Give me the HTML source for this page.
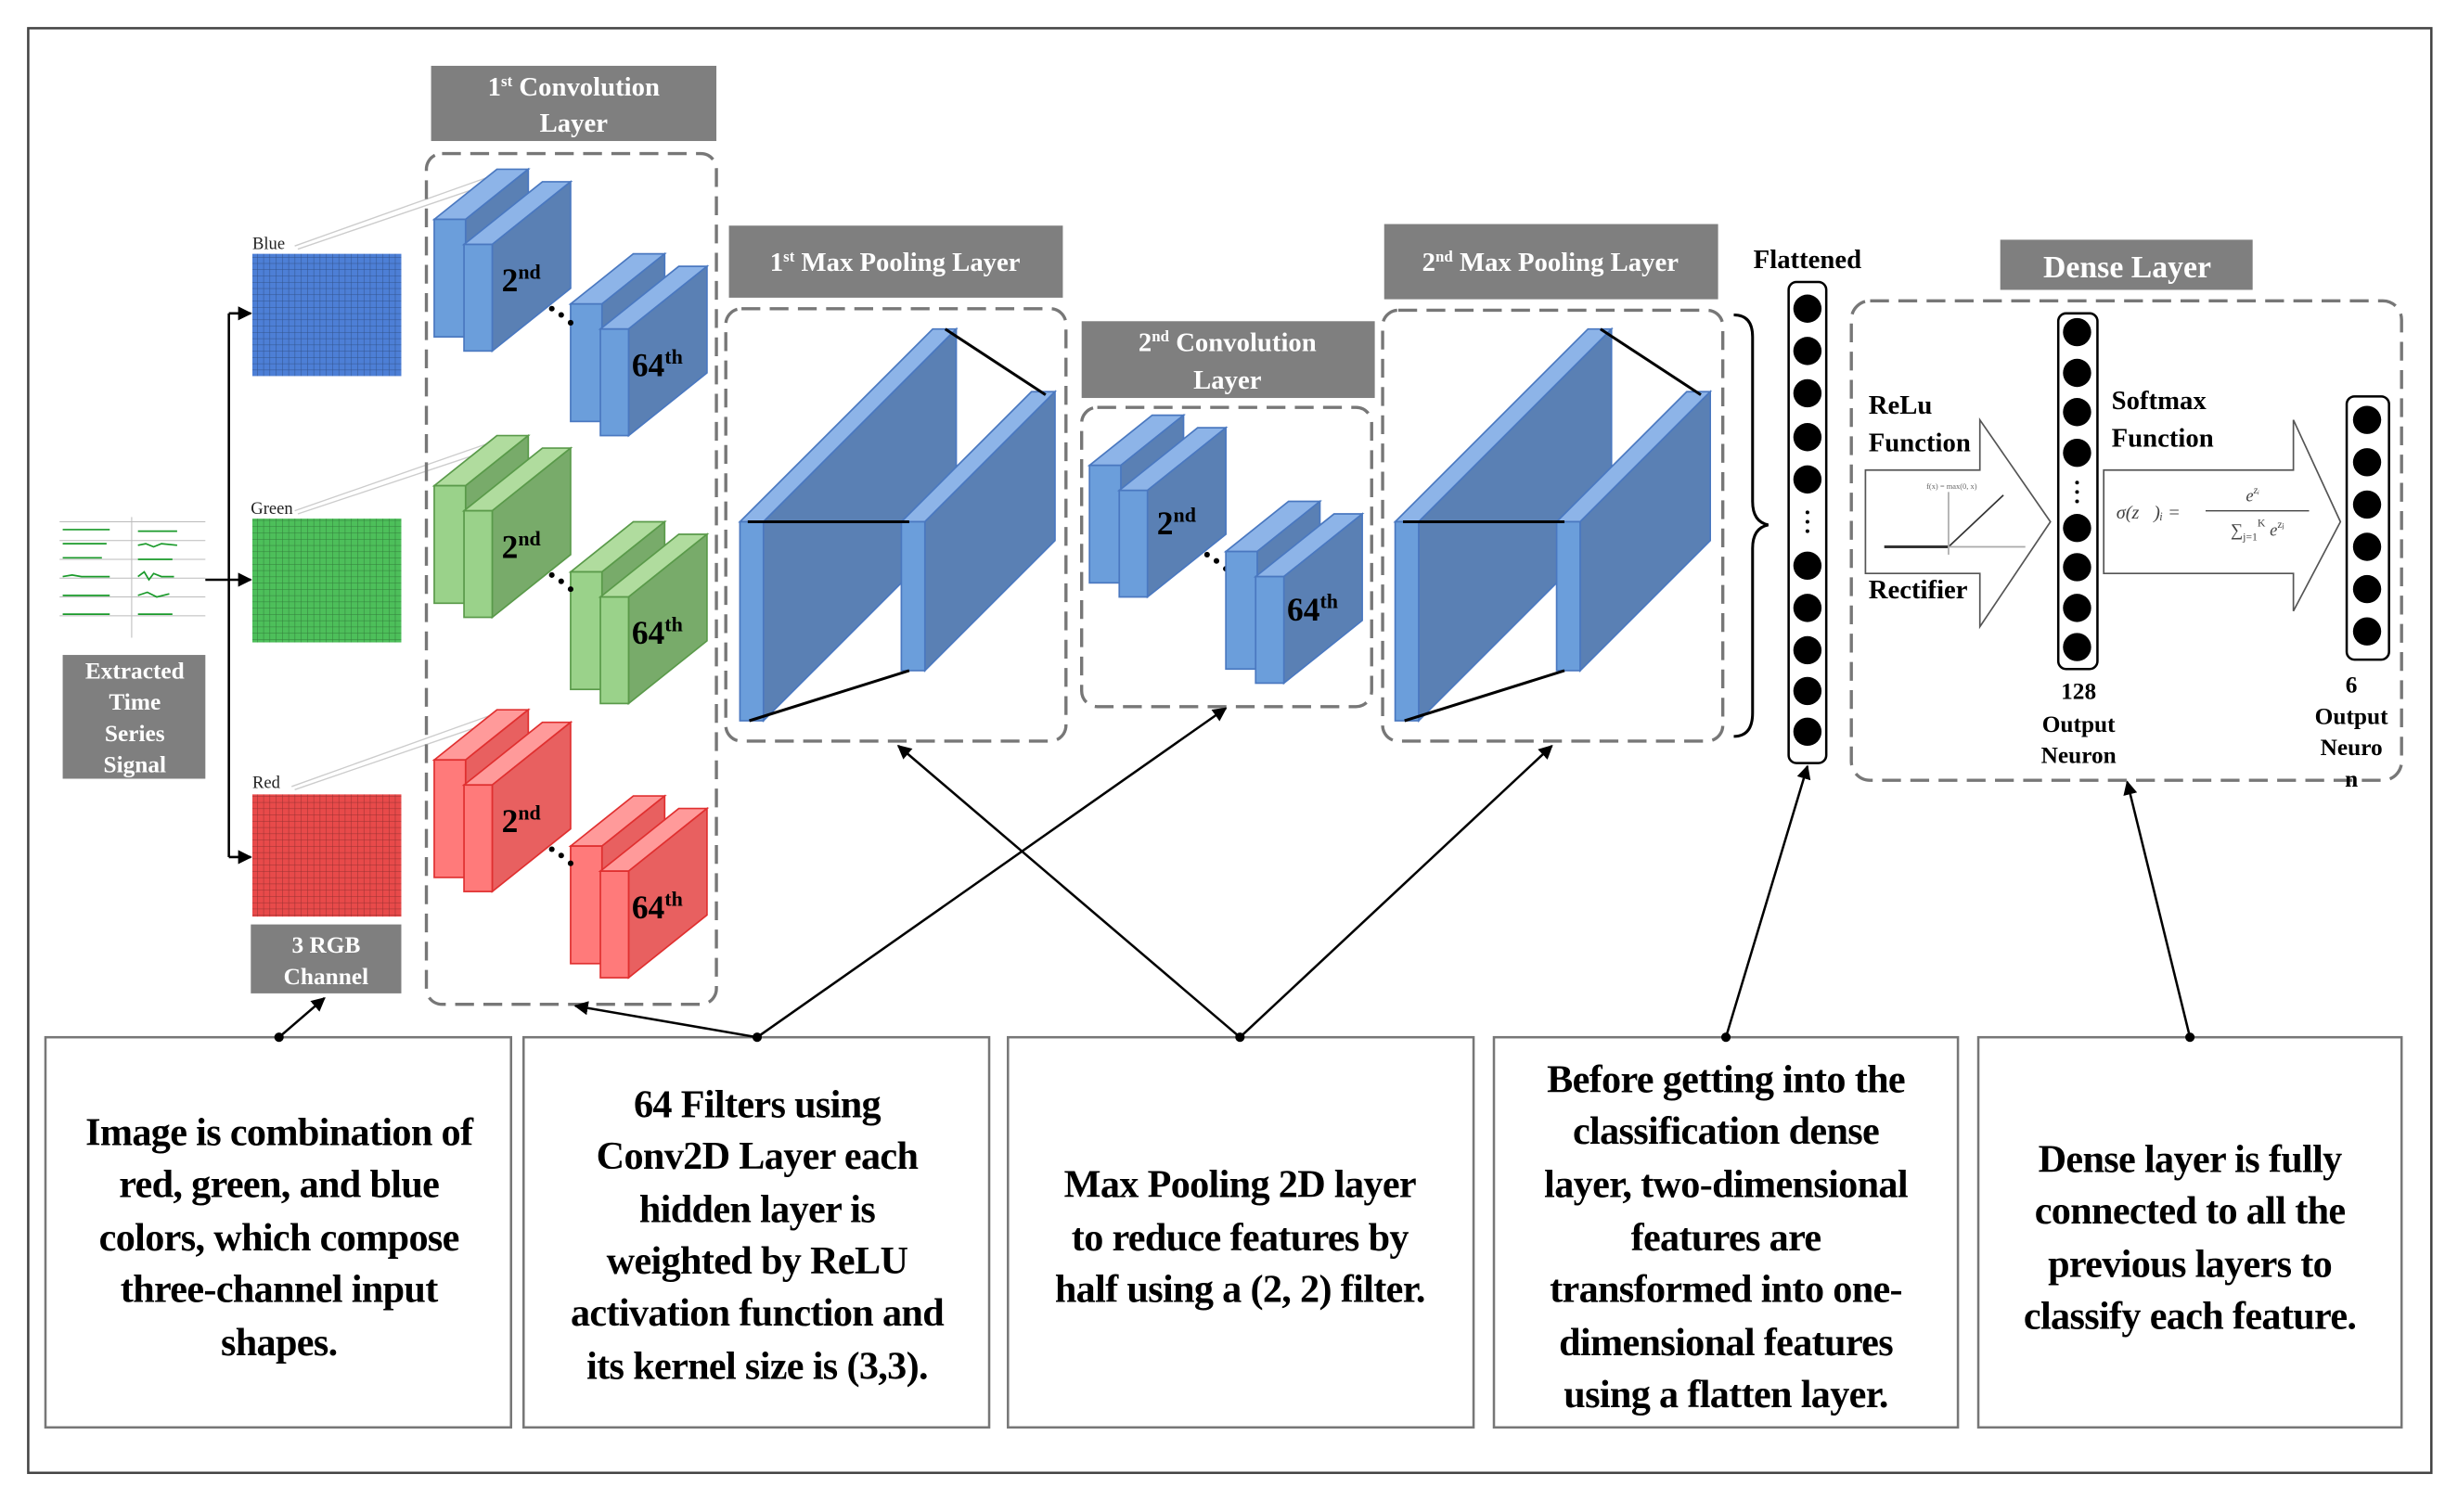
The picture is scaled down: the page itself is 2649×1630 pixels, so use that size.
<!DOCTYPE html>
<html><head><meta charset="utf-8"><style>
html,body{margin:0;padding:0;background:#fff}
svg{display:block}
text{font-family:"Liberation Serif",serif;font-weight:bold}
</style></head><body>
<svg width="2649" height="1630" viewBox="0 0 1568 965" preserveAspectRatio="none" xmlns="http://www.w3.org/2000/svg">
<defs>
<pattern id="grid" width="4" height="4" patternUnits="userSpaceOnUse"><path d="M0 0H4M0 0V4" stroke="#000" stroke-opacity="0.35" stroke-width="0.6" fill="none"/></pattern>
<g id="blk" stroke="var(--s)" stroke-width="1">
<polygon points="0,0 40,-32 60,-32 20,0" fill="var(--t)"/>
<polygon points="20,0 60,-32 60,43 20,75" fill="var(--d)"/>
<rect x="0" y="0" width="20" height="75" fill="var(--f)"/>
<polygon points="19,16 69,-24 87,-24 37,16" fill="var(--t)"/>
<polygon points="37,16 87,-24 87,44 37,84" fill="var(--d)"/>
<rect x="19" y="16" width="18" height="68" fill="var(--f)"/>
</g>
<g id="pool" stroke="#4a78c0" stroke-width="1">
<polygon points="472,333 595,210 610,210 487,333" fill="#8db4e8"/>
<polygon points="487,333 610,210 610,337 487,460" fill="#5a80b4"/>
<rect x="472" y="333" width="15" height="127" fill="#6b9edb"/>
<polygon points="575,333 658,250 673,250 590,333" fill="#8db4e8"/>
<polygon points="590,333 673,250 673,345 590,428" fill="#5a80b4"/>
<rect x="575" y="333" width="15" height="95" fill="#6b9edb"/>
<g stroke="#000" stroke-width="1.8"><line x1="477" y1="333" x2="580" y2="333"/><line x1="478" y1="460" x2="580" y2="428"/><line x1="603" y1="210" x2="667" y2="252"/></g>
</g>
<marker id="ar" viewBox="0 0 10 10" refX="9" refY="5" markerWidth="6" markerHeight="6" orient="auto-start-reverse"><path d="M0,0L10,5L0,10z" fill="#000"/></marker>
</defs>

<rect x="18" y="18" width="1533" height="922" fill="none" stroke="#444" stroke-width="1.5"/>

<g stroke="#bbb" stroke-width="0.6"><line x1="38" y1="333" x2="131" y2="333"/><line x1="38" y1="345" x2="131" y2="345"/><line x1="38" y1="357" x2="131" y2="357"/><line x1="38" y1="369" x2="131" y2="369"/><line x1="38" y1="381" x2="131" y2="381"/><line x1="38" y1="393" x2="131" y2="393"/><line x1="84" y1="330" x2="84" y2="407"/></g>
<g stroke="#1a9a2a" stroke-width="1" fill="none">
<path d="M40 338h30M88 339h25M40 347h28M88 348l5 -1 5 2 5 -2 10 1M40 356h25M88 357h22M40 368l6-1 6 1h18M88 368l4-3 3 5 3-4 5 2 8 0M40 380h30M88 380l6 -2 6 3 8 -2M40 392h30M88 392h22"/></g>
<rect x="40" y="418" width="91" height="79" fill="#7f7f7f"/>
<g fill="#fff" font-size="15" text-anchor="middle"><text x="86" y="433">Extracted</text><text x="86" y="453">Time</text><text x="86" y="473">Series</text><text x="86" y="493">Signal</text></g>

<g stroke="#000" stroke-width="1.5" fill="none">
<line x1="131" y1="370" x2="146" y2="370"/><line x1="146" y1="200" x2="146" y2="547"/>
<line x1="146" y1="200" x2="160" y2="200" marker-end="url(#ar)"/>
<line x1="146" y1="370" x2="160" y2="370" marker-end="url(#ar)"/>
<line x1="146" y1="547" x2="160" y2="547" marker-end="url(#ar)"/>
</g>

<rect x="161" y="162" width="95" height="78" fill="#4d7fd6"/><rect x="161" y="162" width="95" height="78" fill="url(#grid)"/>
<rect x="161" y="331" width="95" height="79" fill="#4dbf5a"/><rect x="161" y="331" width="95" height="79" fill="url(#grid)"/>
<rect x="161" y="507" width="95" height="78" fill="#e84a4a"/><rect x="161" y="507" width="95" height="78" fill="url(#grid)"/>
<g font-size="11" fill="#222"><text x="161" y="159" style="font-weight:normal">Blue</text><text x="160" y="328" style="font-weight:normal">Green</text><text x="161" y="503" style="font-weight:normal">Red</text></g>
<g stroke="#ccc" stroke-width="0.8"><line x1="188" y1="157" x2="320" y2="110"/><line x1="190" y1="159" x2="322" y2="114"/><line x1="188" y1="326" x2="320" y2="280"/><line x1="190" y1="328" x2="322" y2="284"/><line x1="186" y1="502" x2="320" y2="454"/><line x1="188" y1="504" x2="322" y2="458"/></g>
<rect x="160" y="590" width="96" height="44" fill="#7f7f7f"/>
<g fill="#fff" font-size="15" text-anchor="middle"><text x="208" y="608">3 RGB</text><text x="208" y="628">Channel</text></g>

<rect x="275" y="42" width="182" height="48" fill="#7f7f7f"/>
<g fill="#fff" font-size="17" text-anchor="middle"><text x="366" y="61">1<tspan font-size="10" dy="-6">st</tspan><tspan dy="6"> Convolution</tspan></text><text x="366" y="84">Layer</text></g>
<rect x="272" y="98" width="185" height="543" rx="10" fill="none" stroke="#777" stroke-width="2" stroke-dasharray="12,6"/>
<g style="--f:#6b9edb;--d:#5a80b4;--t:#8db4e8;--s:#4a78c0"><use href="#blk" x="277" y="140"/><use href="#blk" x="364" y="194"/></g>
<g style="--f:#9ad28a;--d:#78ab6a;--t:#b0dc9e;--s:#5a9a4a"><use href="#blk" x="277" y="310"/><use href="#blk" x="364" y="365"/></g>
<g style="--f:#ff7a7a;--d:#e86060;--t:#ff9a9a;--s:#e03030"><use href="#blk" x="277" y="485"/><use href="#blk" x="364" y="540"/></g>
<g font-size="21" fill="#000">
<text x="320" y="186">2<tspan font-size="13" dy="-8">nd</tspan></text><text x="403" y="240">64<tspan font-size="13" dy="-8">th</tspan></text>
<text x="320" y="356">2<tspan font-size="13" dy="-8">nd</tspan></text><text x="403" y="411">64<tspan font-size="13" dy="-8">th</tspan></text>
<text x="320" y="531">2<tspan font-size="13" dy="-8">nd</tspan></text><text x="403" y="586">64<tspan font-size="13" dy="-8">th</tspan></text>
</g>
<g fill="#000"><circle cx="352" cy="197" r="1.8"/><circle cx="358" cy="201" r="1.8"/><circle cx="364" cy="206" r="1.8"/>
<circle cx="352" cy="367" r="1.8"/><circle cx="358" cy="371" r="1.8"/><circle cx="364" cy="376" r="1.8"/>
<circle cx="352" cy="542" r="1.8"/><circle cx="358" cy="546" r="1.8"/><circle cx="364" cy="551" r="1.8"/>
<circle cx="770" cy="354" r="1.8"/><circle cx="776" cy="358" r="1.8"/><circle cx="782" cy="363" r="1.8"/></g>

<rect x="465" y="144" width="213" height="46" fill="#7f7f7f"/>
<text x="571" y="173" fill="#fff" font-size="17" text-anchor="middle">1<tspan font-size="10" dy="-6">st</tspan><tspan dy="6"> Max Pooling Layer</tspan></text>
<rect x="463" y="197" width="217" height="276" rx="10" fill="none" stroke="#777" stroke-width="2" stroke-dasharray="12,6"/>
<use href="#pool"/>

<rect x="690" y="205" width="187" height="49" fill="#7f7f7f"/>
<g fill="#fff" font-size="17" text-anchor="middle"><text x="783" y="224">2<tspan font-size="10" dy="-6">nd</tspan><tspan dy="6"> Convolution</tspan></text><text x="783" y="248">Layer</text></g>
<rect x="690" y="260" width="185" height="191" rx="10" fill="none" stroke="#777" stroke-width="2" stroke-dasharray="12,6"/>
<g style="--f:#6b9edb;--d:#5a80b4;--t:#8db4e8;--s:#4a78c0"><use href="#blk" x="695" y="297"/><use href="#blk" x="782" y="352"/></g>
<g font-size="21" fill="#000"><text x="738" y="341">2<tspan font-size="13" dy="-8">nd</tspan></text><text x="821" y="396">64<tspan font-size="13" dy="-8">th</tspan></text></g>

<rect x="883" y="143" width="213" height="48" fill="#7f7f7f"/>
<text x="989" y="173" fill="#fff" font-size="17" text-anchor="middle">2<tspan font-size="10" dy="-6">nd</tspan><tspan dy="6"> Max Pooling Layer</tspan></text>
<rect x="882" y="198" width="217" height="275" rx="10" fill="none" stroke="#777" stroke-width="2" stroke-dasharray="12,6"/>
<use href="#pool" x="418"/>

<path d="M1106 201 Q1118 201 1118 215 L1118 320 Q1118 333 1128 335 Q1118 337 1118 350 L1118 455 Q1118 470 1106 470" fill="none" stroke="#000" stroke-width="1.8"/>

<text x="1153" y="171" font-size="17" text-anchor="middle">Flattened</text>
<rect x="1141" y="180" width="24" height="307" rx="5" fill="#fff" stroke="#000" stroke-width="1.5"/>
<g fill="#000"><circle cx="1153" cy="197" r="9"/><circle cx="1153" cy="224" r="9"/><circle cx="1153" cy="251" r="9"/><circle cx="1153" cy="279" r="9"/><circle cx="1153" cy="306" r="9"/>
<circle cx="1153" cy="327" r="1.2"/><circle cx="1153" cy="333" r="1.2"/><circle cx="1153" cy="339" r="1.2"/>
<circle cx="1153" cy="361" r="9"/><circle cx="1153" cy="388" r="9"/><circle cx="1153" cy="415" r="9"/><circle cx="1153" cy="441" r="9"/><circle cx="1153" cy="467" r="9"/></g>

<rect x="1276" y="153" width="161" height="32" fill="#7f7f7f"/>
<text x="1357" y="177" fill="#fff" font-size="20" text-anchor="middle">Dense Layer</text>
<rect x="1181" y="192" width="351" height="306" rx="12" fill="none" stroke="#777" stroke-width="2" stroke-dasharray="12,6"/>
<g font-size="17"><text x="1192" y="264">ReLu</text><text x="1192" y="288">Function</text><text x="1192" y="382">Rectifier</text>
<text x="1347" y="261">Softmax</text><text x="1347" y="285">Function</text></g>
<path d="M1190 300 H1263 V268 L1308 333 L1263 400 V366 H1190 Z" fill="#fff" stroke="#555" stroke-width="1"/>
<path d="M1342 300 H1463 V268 L1493 333 L1463 390 V366 H1342 Z" fill="#fff" stroke="#555" stroke-width="1"/>
<g stroke="#333" stroke-width="1"><line x1="1202" y1="349" x2="1243" y2="349" stroke-width="1.8"/><line x1="1243" y1="349" x2="1278" y2="316"/><line x1="1243" y1="349" x2="1292" y2="349" stroke="#aaa"/><line x1="1243" y1="314" x2="1243" y2="354" stroke="#aaa"/></g>
<text x="1245" y="312" font-size="5" fill="#666" text-anchor="middle" style="font-weight:normal">f(x) = max(0, x)</text>
<text x="1350" y="331" font-size="12" fill="#444" style="font-weight:normal;font-style:italic">σ(z⃗)ᵢ =</text>
<line x1="1407" y1="326" x2="1473" y2="326" stroke="#444" stroke-width="0.8"/>
<text x="1437" y="320" font-size="11" fill="#444" text-anchor="middle" style="font-weight:normal;font-style:italic">e<tspan font-size="7" dy="-5">zᵢ</tspan></text>
<text x="1440" y="342" font-size="11" fill="#444" text-anchor="middle" style="font-weight:normal">∑<tspan font-size="7" dy="3">j=1</tspan><tspan font-size="7" dy="-9">K</tspan><tspan dy="6" font-style="italic"> e</tspan><tspan font-size="7" dy="-5">zⱼ</tspan></text>

<rect x="1313" y="200" width="25" height="227" rx="5" fill="#fff" stroke="#000" stroke-width="1.5"/>
<g fill="#000"><circle cx="1325" cy="212" r="9"/><circle cx="1325" cy="238" r="9"/><circle cx="1325" cy="263" r="9"/><circle cx="1325" cy="289" r="9"/>
<circle cx="1325" cy="308" r="1.2"/><circle cx="1325" cy="314" r="1.2"/><circle cx="1325" cy="320" r="1.2"/>
<circle cx="1325" cy="337" r="9"/><circle cx="1325" cy="362" r="9"/><circle cx="1325" cy="388" r="9"/><circle cx="1325" cy="413" r="9"/></g>
<g font-size="15" text-anchor="middle"><text x="1326" y="446">128</text><text x="1326" y="467">Output</text><text x="1326" y="487">Neuron</text>
<text x="1500" y="442">6</text><text x="1500" y="462">Output</text><text x="1500" y="482">Neuro</text><text x="1500" y="502">n</text></g>
<rect x="1497" y="253" width="27" height="168" rx="5" fill="#fff" stroke="#000" stroke-width="1.5"/>
<g fill="#000"><circle cx="1510" cy="268" r="9"/><circle cx="1510" cy="295" r="9"/><circle cx="1510" cy="322" r="9"/><circle cx="1510" cy="349" r="9"/><circle cx="1510" cy="376" r="9"/><circle cx="1510" cy="403" r="9"/></g>

<g fill="#fff" stroke="#777" stroke-width="1.5">
<rect x="29" y="662" width="297" height="249"/><rect x="334" y="662" width="297" height="249"/><rect x="643" y="662" width="297" height="249"/><rect x="953" y="662" width="296" height="249"/><rect x="1262" y="662" width="270" height="249"/></g>
<g font-size="25" text-anchor="middle" fill="#000" letter-spacing="-0.4">
<text x="178" y="731">Image is combination of</text><text x="178" y="764">red, green, and blue</text><text x="178" y="798">colors, which compose</text><text x="178" y="831">three-channel input</text><text x="178" y="865">shapes.</text>
<text x="483" y="713">64 Filters using</text><text x="483" y="746">Conv2D Layer each</text><text x="483" y="780">hidden layer is</text><text x="483" y="813">weighted by ReLU</text><text x="483" y="846">activation function and</text><text x="483" y="880">its kernel size is (3,3).</text>
<text x="791" y="764">Max Pooling 2D layer</text><text x="791" y="798">to reduce features by</text><text x="791" y="831">half using a (2, 2) filter.</text>
<text x="1101" y="697">Before getting into the</text><text x="1101" y="730">classification dense</text><text x="1101" y="764">layer, two-dimensional</text><text x="1101" y="798">features are</text><text x="1101" y="831">transformed into one-</text><text x="1101" y="865">dimensional features</text><text x="1101" y="898">using a flatten layer.</text>
<text x="1397" y="748">Dense layer is fully</text><text x="1397" y="781">connected to all the</text><text x="1397" y="815">previous layers to</text><text x="1397" y="848">classify each feature.</text>
</g>

<g stroke="#000" stroke-width="1.5" fill="none">
<line x1="178" y1="662" x2="207" y2="637" marker-end="url(#ar)"/>
<line x1="483" y1="662" x2="367" y2="642" marker-end="url(#ar)"/>
<line x1="483" y1="662" x2="782" y2="452" marker-end="url(#ar)"/>
<line x1="791" y1="662" x2="573" y2="476" marker-end="url(#ar)"/>
<line x1="791" y1="662" x2="990" y2="476" marker-end="url(#ar)"/>
<line x1="1101" y1="662" x2="1153" y2="489" marker-end="url(#ar)"/>
<line x1="1397" y1="662" x2="1357" y2="499" marker-end="url(#ar)"/>
</g>
<g fill="#000"><circle cx="178" cy="662" r="3"/><circle cx="483" cy="662" r="3"/><circle cx="791" cy="662" r="3"/><circle cx="1101" cy="662" r="3"/><circle cx="1397" cy="662" r="3"/></g>
</svg>
</body></html>
